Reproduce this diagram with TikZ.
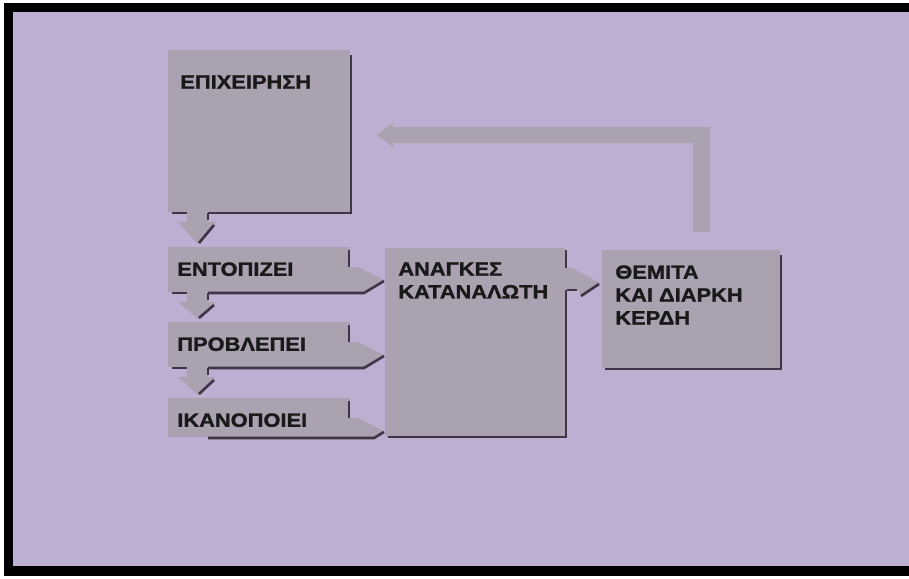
\documentclass[tikz,border=0pt]{standalone}
\usepackage{fontspec}
\newfontfamily\lblfont{Liberation Sans}[FakeStretch=1.13, BoldFeatures={FakeBold=1.3}]
\usetikzlibrary{calc,fit}
\definecolor{pagebg}{HTML}{BDAFD2}
\definecolor{boxfill}{HTML}{AAA1B1}
\definecolor{boxshade}{HTML}{3E3646}
\tikzset{
  blk/.style={fill=boxfill, inner sep=0pt, outer sep=0pt},
  blkshade/.style={draw=boxshade, line width=1.5pt},
  blklbl/.style={font=\lblfont\bfseries\fontsize{11}{13}\selectfont, text=black!90,
                 anchor=north west, inner sep=0pt, align=left}
}
% block arrow pointing down, from the lower left of #1 into #2
\newcommand\dnarrow[2]{%
  \fill[boxfill] ($(#1.south west)+(19,-2)$) -- ($(#1.south west)+(40,-2)$)
    -- ($(#1.south west)+(40,10)$) -- ($(#1.south west)+(48,10)$)
    -- ($(#2.north west)+(30,-3)$) -- ($(#1.south west)+(10,10)$)
    -- ($(#1.south west)+(19,10)$) -- cycle;
  \draw[blkshade] ($(#1.south west)+(4,1)$) -- ($(#1.south west)+(19,1)$);
  \draw[blkshade] ($(#1.south west)+(40,8)$) -- ($(#1.south west)+(40,1)$);
  \draw[blkshade] ($(#1.south west)+(46,13)$) -- ($(#2.north west)+(31,-4)$);
}
% block arrow pointing right, out of the lower right of #1 (#2 = lower corner)
\newcommand\rtarrow[2]{%
  \fill[boxfill] ($(#1.north east)+(0,20)$) -- ($(#1.north east)+(8,20)$)
    -- ($(#1.north east)+(34,33)$) -- ($(#1.south east)+(#2,0)$)
    -- (#1.south east) -- cycle;
  \draw[blkshade] ($(#1.north east)+(-1,3)$) -- ($(#1.north east)+(-1,20)$);
  \draw[blkshade] ($(#1.south west)+(40,1)$) -- ($(#1.south east)+(#2,1)$)
    -- ($(#1.north east)+(34,34)$);
}

\begin{document}
\begin{tikzpicture}[x=0.02cm, y=-0.02cm]
\useasboundingbox (0,0) rectangle (909,578);
% frame
\fill[white] (0,0) rectangle (909,578);
\fill[black] (4,3) rectangle (909,576);
\fill[pagebg] (13,12) rectangle (909,566);

% boxes
\node[blk, fit={(168,50) (350,212)}] (firm) {};
\node[blk, fit={(168,247) (350,292)}] (locate) {};
\node[blk, fit={(168,322) (350,367)}] (predict) {};
\node[blk, fit={(168,398) (350,437)}] (satisfy) {};
\node[blk, fit={(385,248) (565,437)}] (needs) {};
\node[blk, fit={(602,250) (780,368)}] (goals) {};

% shadows
\draw[blkshade] ($(firm.south west)+(40,1)$) -- ($(firm.south east)+(1,1)$) -- ($(firm.north east)+(1,5)$);
\draw[blkshade] ($(needs.south west)+(3,0)$) -- ($(needs.south east)+(1,0)$) -- ($(needs.north east)+(1,42)$);
\draw[blkshade] ($(needs.north east)+(1,2)$) -- ($(needs.north east)+(1,20)$);
\draw[blkshade] ($(goals.south west)+(3,1)$) -- ($(goals.south east)+(1,1)$) -- ($(goals.north east)+(1,5)$);

% arrows
\dnarrow{firm}{locate}
\dnarrow{locate}{predict}
\dnarrow{predict}{satisfy}
\rtarrow{locate}{14}
\rtarrow{predict}{14}
\rtarrow{satisfy}{24}
\fill[boxfill] ($(needs.north east)+(0,20)$) -- ($(needs.north east)+(7,20)$)
  -- ($(goals.west)+(-2,-26)$) -- ($(needs.north east)+(16,49)$)
  -- ($(needs.north east)+(13,42)$) -- ($(needs.north east)+(0,42)$) -- cycle;
\draw[blkshade] ($(needs.north east)+(2,42)$) -- ($(needs.north east)+(12,42)$);
\draw[blkshade] ($(needs.north east)+(16,48)$) -- ($(goals.west)+(-3,-25)$);
\fill[boxfill] ($(goals.north west)+(108,-18)$) |- ($(firm.north east)+(43,77)$)
  -- ++(0,-4) -- ($(firm.north east)+(27,85)$) -- ($(firm.north east)+(43,97)$)
  -- ++(0,-4) -| ($(goals.north west)+(91,-18)$) -- cycle;

% labels
\node[blklbl] (firmlbl) at ($(firm.north west)+(12,25)$) {ΕΠΙΧΕΙΡΗΣΗ};
\node[blklbl] (locatelbl) at ($(locate.north west)+(9,15)$) {ΕΝΤΟΠΙΖΕΙ};
\node[blklbl] (predictlbl) at ($(predict.north west)+(9,15)$) {ΠΡΟΒΛΕΠΕΙ};
\node[blklbl] (satisfylbl) at ($(satisfy.north west)+(9,15)$) {ΙΚΑΝΟΠΟΙΕΙ};
\node[blklbl] (needslbl) at ($(needs.north west)+(13,14)$) {ΑΝΑΓΚΕΣ\\ΚΑΤΑΝΑΛΩΤΗ};
\node[blklbl] (goalslbl) at ($(goals.north west)+(13,15)$) {ΘΕΜΙΤΑ\\ΚΑΙ ΔΙΑΡΚΗ\\ΚΕΡΔΗ};
\end{tikzpicture}
\end{document}
